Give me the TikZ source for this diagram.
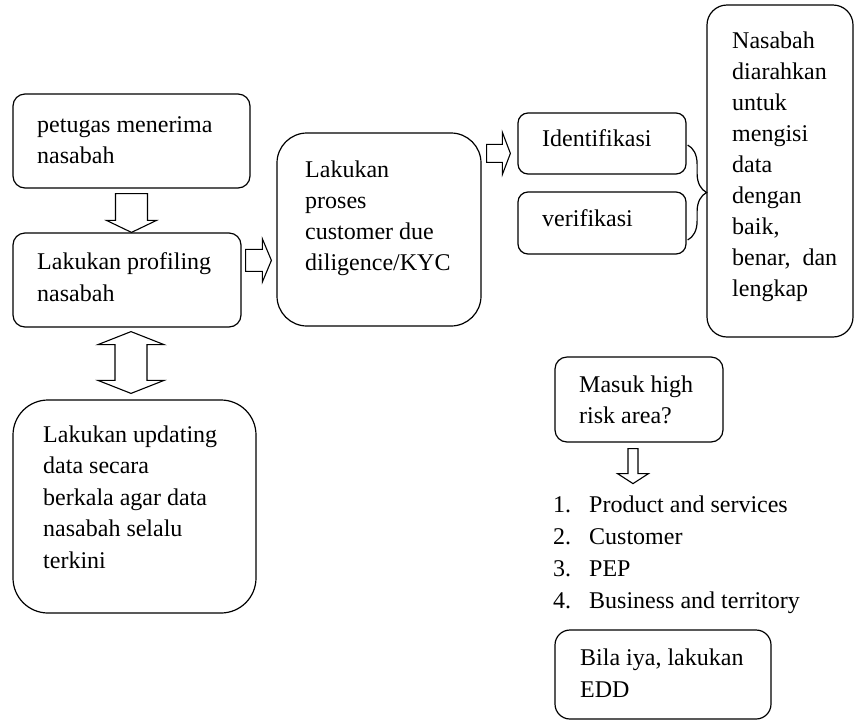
\documentclass[tikz,border=0pt]{standalone}
\usepackage{fontspec}
\setmainfont{Liberation Serif}
\usetikzlibrary{calc,positioning,decorations.pathreplacing}
\tikzset{
  boxnd/.style={draw, line width=1.2pt, rounded corners=12pt, inner sep=0pt},
  txt/.style={anchor=base west, align=left, inner sep=0pt, font=\fontsize{24}{31}\selectfont},
  blockarr/.style={draw, line width=1.1pt, fill=white, line join=miter},
  bracel/.style={decorate, decoration={brace, amplitude=19pt}, line width=1.2pt},
}
% fat arrow: tail, tip, shaft half width, head half width, head length
\newcommand{\fatarrow}[5]{%
  \coordinate (fa-n) at ($(#2)!#5!(#1)$);
  \draw[blockarr] ($(#1)!#3!90:(#2)$) -- ($(fa-n)!#3!-90:(#1)$) -- ($(fa-n)!#4!-90:(#1)$)
    -- (#2) -- ($(fa-n)!#4!90:(#1)$) -- ($(fa-n)!#3!90:(#1)$) -- ($(#1)!#3!-90:(#2)$) -- cycle;
}
\newcommand{\fatdblarrow}[5]{%
  \coordinate (fd-n1) at ($(#1)!#5!(#2)$);
  \coordinate (fd-n2) at ($(#2)!#5!(#1)$);
  \draw[blockarr] (#1) -- ($(fd-n1)!#4!90:(#2)$) -- ($(fd-n1)!#3!90:(#2)$)
    -- ($(fd-n2)!#3!-90:(#1)$) -- ($(fd-n2)!#4!-90:(#1)$) -- (#2)
    -- ($(fd-n2)!#4!90:(#1)$) -- ($(fd-n2)!#3!90:(#1)$)
    -- ($(fd-n1)!#3!-90:(#2)$) -- ($(fd-n1)!#4!-90:(#2)$) -- cycle;
}

\begin{document}
\begin{tikzpicture}[x=1pt, y=-1pt]
  \useasboundingbox (0,0) rectangle (856,721);
  % left column (text nodes sit on the baseline of their last line)
  \node[boxnd, minimum width=237pt, minimum height=94pt] (petugas) at (131.5,141) {};
  \node[txt] (petugasT) at (37,163) {petugas menerima\\nasabah};
  \node[boxnd, minimum width=228pt, minimum height=94pt] (profiling) at (127,280) {};
  \node[txt, font=\fontsize{24}{32}\selectfont] (profilingT) at (37,301) {Lakukan profiling\\nasabah};
  \node[boxnd, rounded corners=35pt, minimum width=243pt, minimum height=213pt] (updating) at (134.5,506.5) {};
  \node[txt, font=\fontsize{24}{31.5}\selectfont] (updatingT) at (43,568) {Lakukan updating\\data secara\\berkala agar data\\nasabah selalu\\terkini};
  % middle: CDD / KYC
  \node[boxnd, rounded corners=30pt, minimum width=204pt, minimum height=193pt] (kyc) at (379,229.5) {};
  \node[txt] (kycT) at (305,270) {Lakukan\\proses\\customer due\\diligence/KYC};
  % identification and verification
  \node[boxnd, rounded corners=10pt, minimum width=168pt, minimum height=61pt] (ident) at (602,143.5) {};
  \node[txt] (identT) at (542,146) {Identifikasi};
  \node[boxnd, rounded corners=10pt, minimum width=168pt, minimum height=62pt] (verif) at (602,223) {};
  \node[txt] (verifT) at (542,226) {verifikasi};
  \node[boxnd, rounded corners=20pt, minimum width=146pt, minimum height=332pt] (nasabah) at (780,171) {};
  \node[txt] (nasabahT) at (732,296) {Nasabah\\diarahkan\\untuk\\mengisi\\data\\dengan\\baik,\\benar,\ \ dan\\lengkap};
  % high risk
  \node[boxnd, minimum width=168pt, minimum height=85pt] (masuk) at (639,399.5) {};
  \node[txt] (masukT) at (579,423) {Masuk high\\risk area?};
  \node[txt, font=\fontsize{24}{32}\selectfont] (risklist) at (553,608)
    {\makebox[36pt][l]{1.}Product and services\\\makebox[36pt][l]{2.}Customer\\
     \makebox[36pt][l]{3.}PEP\\\makebox[36pt][l]{4.}Business and territory};
  \node[boxnd, rounded corners=15pt, minimum width=216pt, minimum height=89pt] (bila) at (663,674.5) {};
  \node[txt, font=\fontsize{24}{32}\selectfont] (bilaT) at (580,697) {Bila iya, lakukan\\EDD};
  % block arrows
  \coordinate (pp-a) at ($(petugas.south)+(0,5)$);
  \coordinate (pp-b) at (pp-a |- profiling.north);
  \fatarrow{pp-a}{pp-b}{16pt}{25pt}{12pt}
  \coordinate (pk-a) at ($(profiling.north east)+(4,28)$);
  \coordinate (pk-b) at ($(pk-a -| kyc.west)+(-5,0)$);
  \fatarrow{pk-a}{pk-b}{11pt}{21.5pt}{9pt}
  \coordinate (ki-a) at ($(kyc.north east)+(5,21)$);
  \coordinate (ki-b) at ($(ki-a -| ident.west)+(-7,0)$);
  \fatarrow{ki-a}{ki-b}{9pt}{21pt}{8pt}
  \coordinate (pu-a) at ($(profiling.south)+(4,4)$);
  \coordinate (pu-b) at ($(pu-a |- updating.north)+(0,-6)$);
  \fatdblarrow{pu-a}{pu-b}{16pt}{33pt}{13pt}
  \coordinate (mr-a) at ($(masuk.south)+(-6,6)$);
  \coordinate (mr-b) at ($(mr-a)+(0,35)$);
  \fatarrow{mr-a}{mr-b}{5pt}{15.5pt}{10pt}
  % brace to the instruction box
  \draw[bracel] ($(ident.east)+(1,1.5)$) -- ($(verif.east)+(1,17)$);
\end{tikzpicture}
\end{document}
